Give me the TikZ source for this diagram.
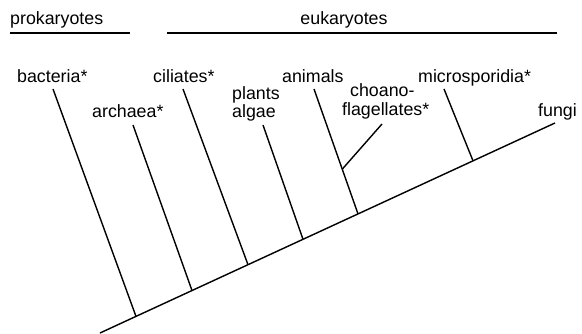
\documentclass[tikz,border=0pt]{standalone}
\usepackage{fontspec}
\setmainfont{Liberation Sans}
\begin{document}
\begin{tikzpicture}[x=1pt,y=-1pt,
  lbl/.style={anchor=base west, inner sep=0pt, font=\fontsize{17.8}{20}\selectfont},
  br/.style={line width=1.4pt, line cap=butt}]
\useasboundingbox (0,0) rectangle (582,334);
% group labels
\node[lbl] (prok) at (10,25) {prokaryotes};
\node[lbl,anchor=base] (euk) at (344,25) {eukaryotes};
\coordinate (pl1) at (10,33);  \coordinate (pl2) at (130,33);
\coordinate (el1) at (167,33); \coordinate (el2) at (557,33);
\draw[br] (pl1) -- (pl2);
\draw[br] (el1) -- (el2);
% leaf labels
\node[lbl] (bact) at (17,83) {bacteria*};
\node[lbl] (arch) at (92,118) {archaea*};
\node[lbl] (cil) at (153,83) {ciliates*};
\node[lbl] (plants) at (232,100) {plants};
\node[lbl] (algae) at (232,118) {algae};
\node[lbl] (anim) at (282,83) {animals};
\node[lbl] (choano) at (350,97) {choano-};
\node[lbl] (flag) at (342,116) {flagellates*};
\node[lbl] (micro) at (418,83) {microsporidia*};
\node[lbl] (fungi) at (538,117) {fungi};
% tree coordinates
\coordinate (root) at (100,333);
\coordinate (ftip) at (555,123);
\coordinate (tb) at (53,89);   \coordinate (jb) at (136,316.4);
\coordinate (ta) at (133,125); \coordinate (ja) at (192,290.5);
\coordinate (tc) at (183,89);  \coordinate (jc) at (248,264.7);
\coordinate (tp) at (263,125); \coordinate (jp) at (303,239.3);
\coordinate (tn) at (314,89);  \coordinate (jn) at (358,213.9);
\coordinate (tf) at (382,124); \coordinate (jf) at (342.4,169);
\coordinate (tm) at (444,89);  \coordinate (jm) at (473,160.8);
% tree
\draw[br] (root) -- (ftip);
\draw[br] (tb) -- (jb);
\draw[br] (ta) -- (ja);
\draw[br] (tc) -- (jc);
\draw[br] (tp) -- (jp);
\draw[br] (tn) -- (jn);
\draw[br] (tf) -- (jf);
\draw[br] (tm) -- (jm);
\end{tikzpicture}
\end{document}
